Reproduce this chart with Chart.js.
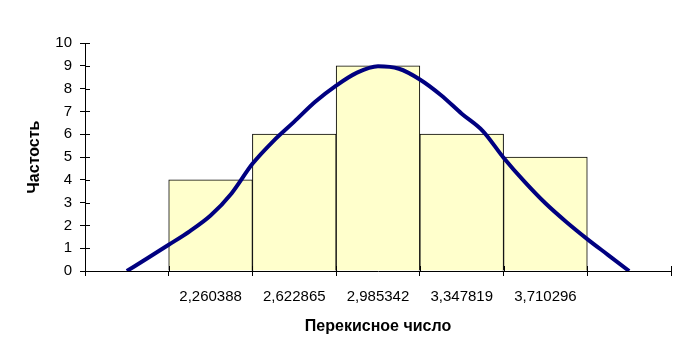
<!DOCTYPE html>
<html>
<head>
<meta charset="utf-8">
<script src="https://cdn.jsdelivr.net/npm/chart.js@4"></script>
<style>
    body { margin: 0; background: #fff; }
    #wrap { width: 684px; height: 363px; }
</style>
</head>
<body>
<div id="wrap"><canvas id="histChart" width="684" height="363"></canvas></div>
<script>
// bins (empty slot at each end, like the original sheet)
const binLabels = ['', '2,260388', '2,622865', '2,985342', '3,347819', '3,710296', ''];
const binCounts = [null, 4, 6, 9, 6, 5, null];

// smoothed curve, x in bin units (0 = first slot centre)
const curveX = [0, 0.25, 0.5, 0.75, 1, 1.25, 1.5, 1.75, 2, 2.25, 2.5, 2.75, 3,
                3.25, 3.5, 3.75, 4, 4.25, 4.5, 4.75, 5, 5.25, 5.5, 5.75, 6];
const curveY = [0, 0.57, 1.15, 1.74, 2.43, 3.4, 4.7, 5.7, 6.55, 7.42, 8.13, 8.7, 8.98,
                8.87, 8.4, 7.72, 6.9, 6.15, 4.97, 3.92, 2.97, 2.15, 1.4, 0.7, 0];

const yTicks = [0, 1, 2, 3, 4, 5, 6, 7, 8, 9, 10];

const FONT = '"Liberation Sans", Arial, sans-serif';

// Excel-style "cross" tick marks: draw the half that sits inside the plot
const crossTicks = {
    id: 'crossTicks',
    afterDraw(chart) {
        const ctx = chart.ctx;
        const xs = chart.scales.xLine;
        const ys = chart.scales.y;
        const area = chart.chartArea;
        ctx.save();
        ctx.strokeStyle = '#000';
        ctx.lineWidth = 1;
        ctx.beginPath();
        for (let i = 0; i <= binLabels.length; i++) {
            const px = Math.round(xs.getPixelForValue(i - 0.5)) + 0.5;
            ctx.moveTo(px, area.bottom);
            ctx.lineTo(px, area.bottom - 5);
        }
        yTicks.forEach(v => {
            const py = Math.round(ys.getPixelForValue(v)) + 0.5;
            ctx.moveTo(area.left, py);
            ctx.lineTo(area.left + 5, py);
        });
        ctx.stroke();
        ctx.restore();
    }
};

new Chart(document.getElementById('histChart'), {
    data: {
        labels: binLabels,
        datasets: [{
            type: 'scatter',
            data: curveX.map((x, i) => ({ x, y: curveY[i] })),
            xAxisID: 'xLine',
            showLine: true,
            borderColor: '#000080',
            borderWidth: 4,
            pointRadius: 0,
            cubicInterpolationMode: 'monotone',
            order: 0
        }, {
            type: 'bar',
            data: binCounts,
            xAxisID: 'x',
            backgroundColor: '#FFFFCC',
            borderColor: '#000',
            borderWidth: 1,
            barPercentage: 1,
            categoryPercentage: 1,
            grouped: false,
            order: 1
        }]
    },
    options: {
        responsive: false,
        animation: false,
        layout: { padding: { top: 43, right: 13, bottom: 0, left: 0 } },
        plugins: {
            legend: { display: false },
            tooltip: { enabled: false }
        },
        scales: {
            x: {
                type: 'category',
                offset: true,
                grid: { offset: true, drawOnChartArea: false, tickLength: 5, color: '#000' },
                border: { color: '#000' },
                ticks: { color: '#000', font: { family: FONT, size: 15 }, padding: 12, maxRotation: 0, autoSkip: false },
                title: {
                    display: true,
                    text: 'Перекисное число',
                    color: '#000',
                    font: { family: FONT, size: 16, weight: 'bold' },
                    padding: { top: 0, bottom: 27 }
                },
                afterFit(scale) { scale.height = 92; }
            },
            xLine: {
                type: 'linear',
                min: -0.5,
                max: 6.5,
                display: false
            },
            y: {
                min: 0,
                max: 10,
                afterBuildTicks(scale) { scale.ticks = yTicks.map(v => ({ value: v })); },
                grid: { drawOnChartArea: false, tickLength: 5, color: '#000' },
                border: { color: '#000' },
                ticks: { color: '#000', font: { family: FONT, size: 15 }, padding: 8 },
                title: {
                    display: true,
                    text: 'Частость',
                    color: '#000',
                    font: { family: FONT, size: 16, weight: 'bold' },
                    padding: { top: 25, bottom: 0 }
                },
                afterFit(scale) { scale.width = 85; }
            }
        }
    },
    plugins: [crossTicks]
});
</script>
</body>
</html>
